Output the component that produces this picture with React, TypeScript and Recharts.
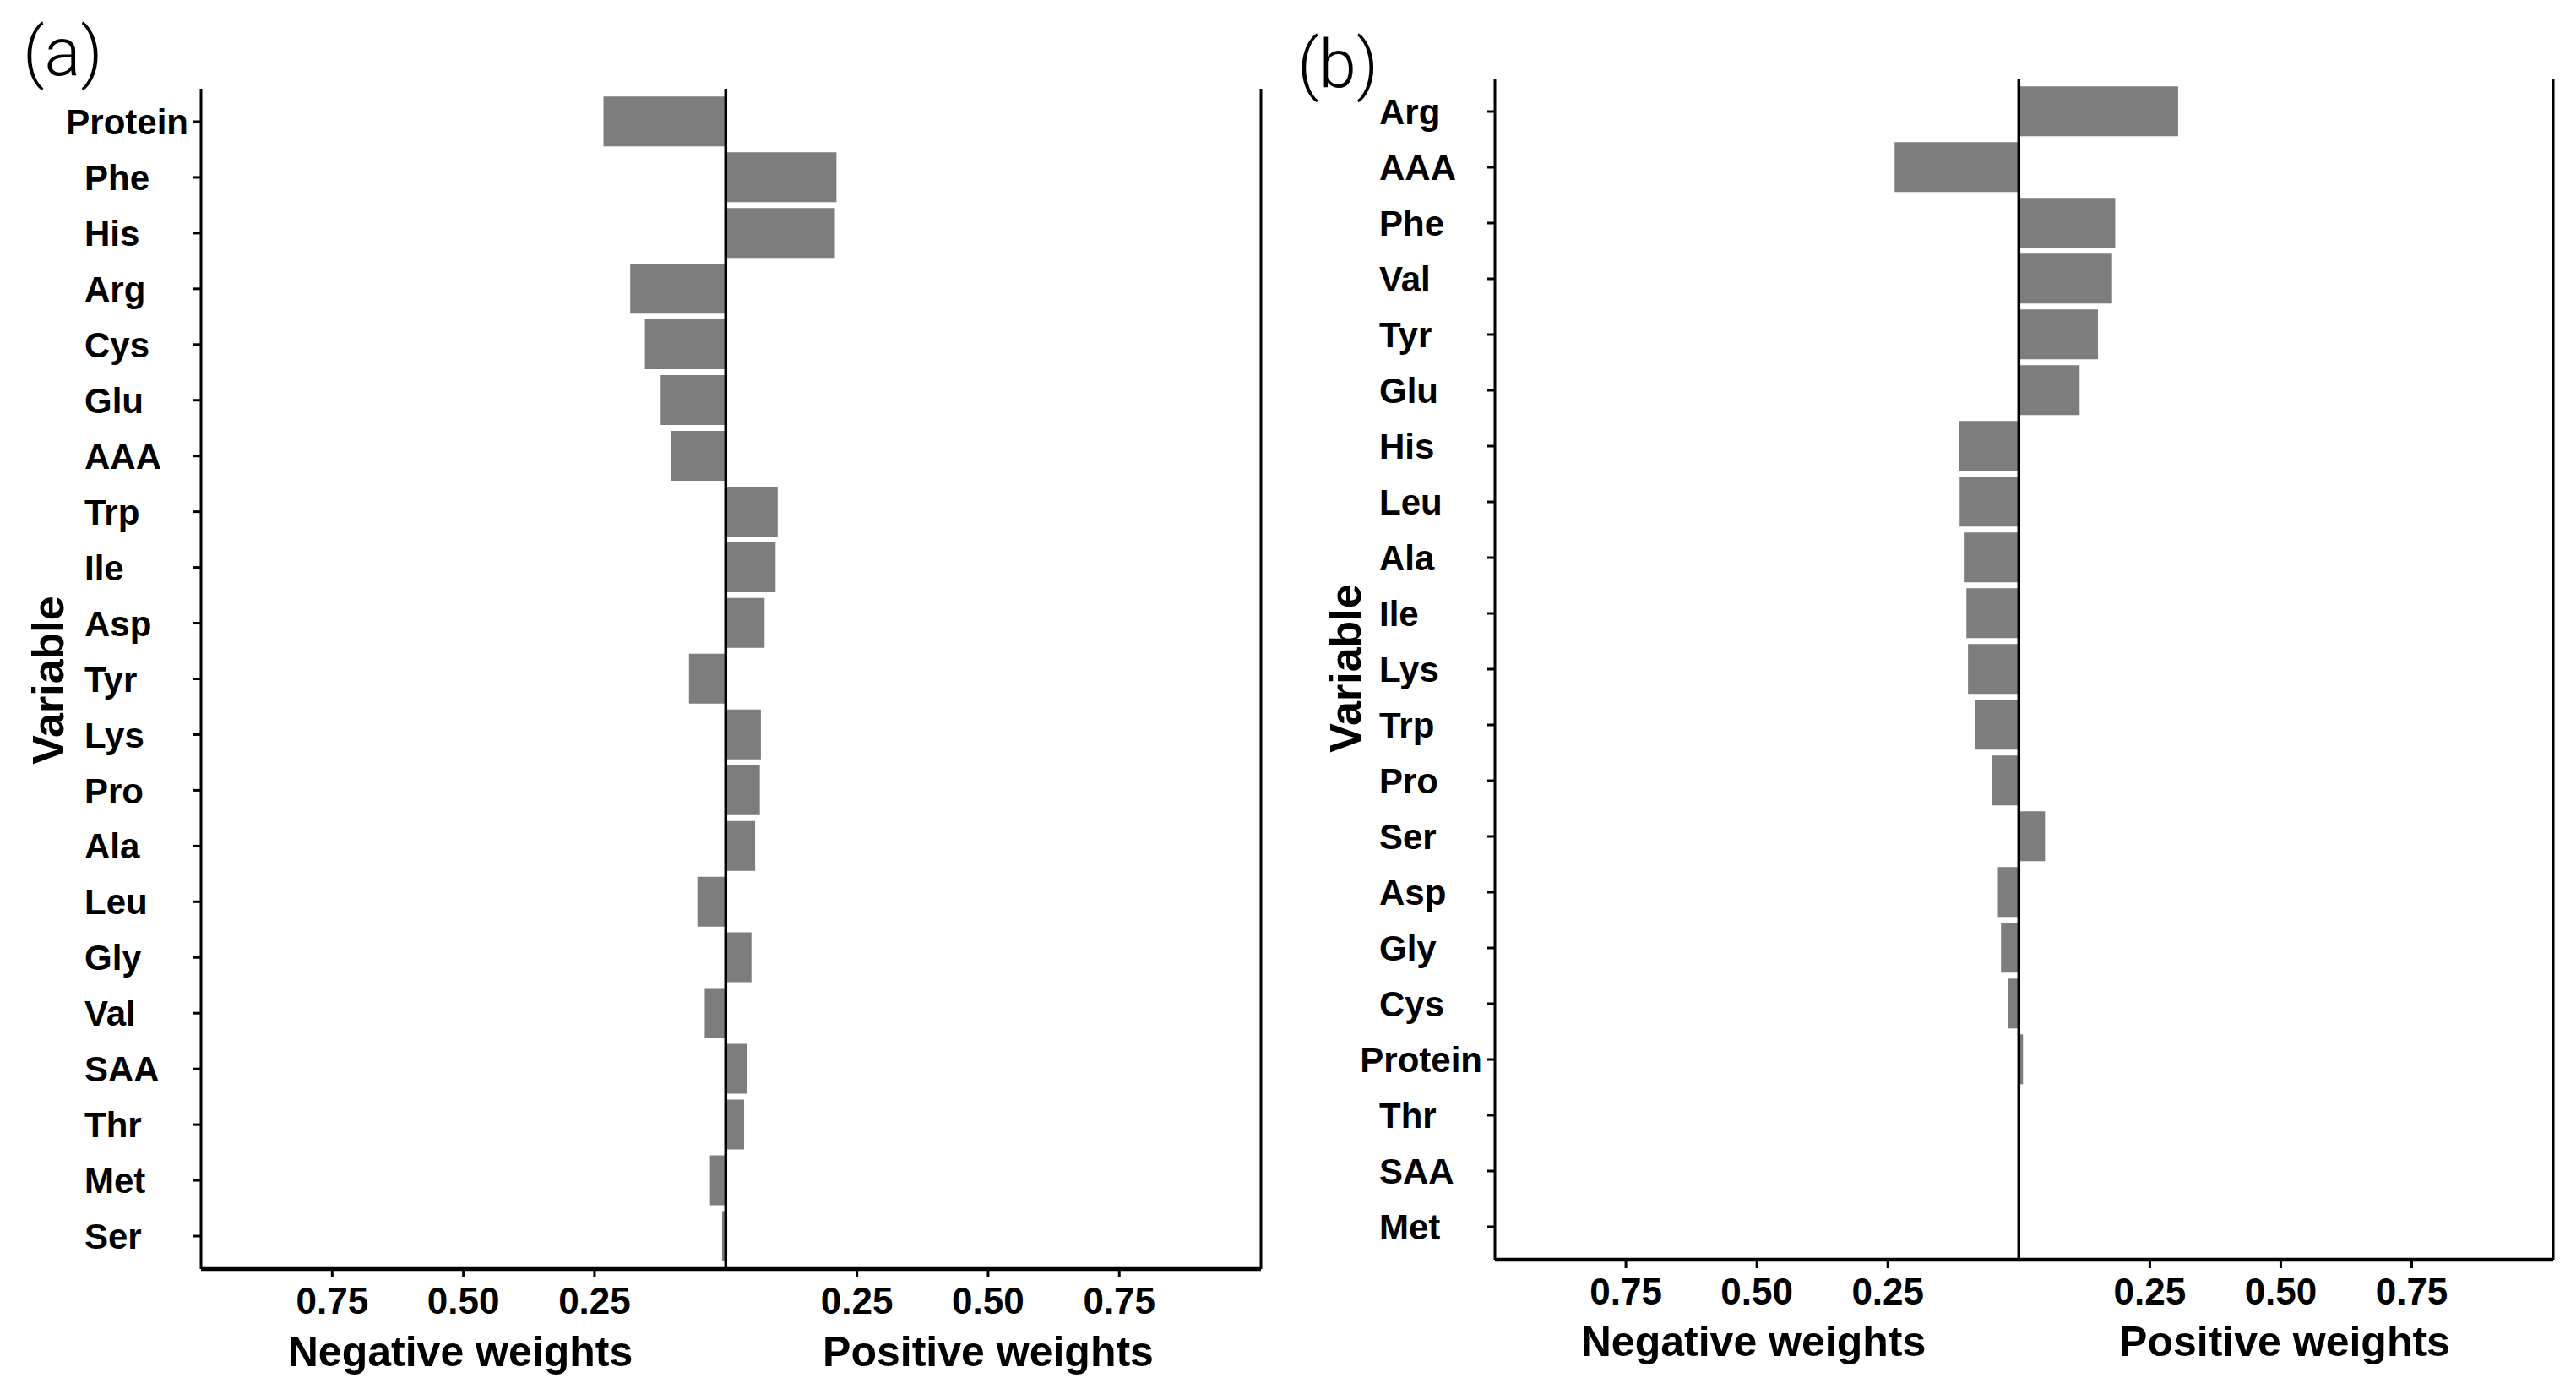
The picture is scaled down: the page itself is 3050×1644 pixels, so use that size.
import { Bar, BarChart, ReferenceLine, XAxis, YAxis } from "recharts";

// panel (a)
const variablesA = [
  "Protein", "Phe", "His", "Arg", "Cys", "Glu", "AAA", "Trp", "Ile", "Asp", "Tyr",
  "Lys", "Pro", "Ala", "Leu", "Gly", "Val", "SAA", "Thr", "Met", "Ser",
];
const weightsA = [
  -0.233, 0.211, 0.208, -0.182, -0.154, -0.124, -0.104, 0.099, 0.095, 0.074, -0.07,
  0.067, 0.065, 0.056, -0.054, 0.049, -0.04, 0.04, 0.035, -0.03, -0.007,
];

// panel (b)
const variablesB = [
  "Arg", "AAA", "Phe", "Val", "Tyr", "Glu", "His", "Leu", "Ala", "Ile", "Lys",
  "Trp", "Pro", "Ser", "Asp", "Gly", "Cys", "Protein", "Thr", "SAA", "Met",
];
const weightsB = [
  0.304, -0.237, 0.184, 0.178, 0.151, 0.116, -0.114, -0.113, -0.105, -0.1, -0.097,
  -0.084, -0.052, 0.05, -0.04, -0.034, -0.02, 0.008, 0.002, 0, 0,
];

const xTicks = [-0.75, -0.5, -0.25, 0.25, 0.5, 0.75];
const xMin = -1;
const xMax = 1.02;

const font = '"Liberation Sans", Arial, sans-serif';
const barFill = "#7d7d7d";

function VarTick(props: any) {
  const { x, y, payload, startX } = props;
  const label = String(payload.value);
  const long = label.length > 4;
  return (
    <text
      x={long ? x - 4 : startX}
      y={y}
      dy="0.36em"
      textAnchor={long ? "end" : "start"}
      fontFamily={font}
      fontWeight="bold"
      fontSize={42}
      fill="#000"
    >
      {label}
    </text>
  );
}

type PanelProps = {
  variables: string[];
  weights: number[];
  left: number;
  top: number;
  axisWidth: number;
  right: number;
  xAxisHeight: number;
  labelStart: number;
};

function WeightPanel(p: PanelProps) {
  const data = p.variables.map((name, i) => ({ name, weight: p.weights[i] }));
  return (
    <div style={{ position: "absolute", left: p.left, top: 0 }}>
      <BarChart
        layout="vertical"
        width={1525}
        height={1644}
        data={data}
        margin={{ top: p.top, right: p.right, bottom: 0, left: 0 }}
        barCategoryGap={3.3}
      >
        <XAxis
          type="number"
          domain={[xMin, xMax]}
          ticks={xTicks}
          tickFormatter={(v: number) => Math.abs(v).toFixed(2)}
          height={p.xAxisHeight}
          axisLine={{ stroke: "#000", strokeWidth: 4.5 }}
          tickLine={{ stroke: "#000", strokeWidth: 3 }}
          tickSize={10}
          tickMargin={12}
          tick={{ fill: "#000", fontSize: 44, fontWeight: "bold", fontFamily: font }}
          allowDataOverflow
        />
        <YAxis
          type="category"
          dataKey="name"
          width={p.axisWidth}
          padding={{ top: 6, bottom: 6 }}
          axisLine={{ stroke: "#000", strokeWidth: 3 }}
          tickLine={{ stroke: "#000", strokeWidth: 3 }}
          tickSize={9}
          interval={0}
          tick={(t: any) => <VarTick {...t} startX={p.labelStart} />}
        />
        <Bar dataKey="weight" fill={barFill} isAnimationActive={false} />
        <ReferenceLine x={0} stroke="#000" strokeWidth={3.5} />
        <ReferenceLine x={xMax} stroke="#000" strokeWidth={3} />
      </BarChart>
    </div>
  );
}

const titleStyle = {
  fontFamily: font,
  fontWeight: "bold" as const,
  fontSize: 50,
  fill: "#000",
};

export default function App() {
  return (
    <div
      style={{
        position: "absolute",
        left: 0,
        top: 0,
        width: 3050,
        height: 1644,
        background: "#fff",
        overflow: "hidden",
      }}
    >
      <WeightPanel
        variables={variablesA}
        weights={weightsA}
        left={0}
        top={105}
        axisWidth={238}
        right={32}
        xAxisHeight={142}
        labelStart={100}
      />
      <WeightPanel
        variables={variablesB}
        weights={weightsB}
        left={1525}
        top={93}
        axisWidth={245}
        right={27}
        xAxisHeight={153}
        labelStart={108}
      />
      <svg
        width={3050}
        height={1644}
        style={{ position: "absolute", left: 0, top: 0, pointerEvents: "none" }}
      >
        <text x={27} y={89} fontFamily='Roboto, "Liberation Sans", sans-serif' fontWeight={300} fontSize={80}>
          (a)
        </text>
        <text x={1536} y={103} fontFamily='Roboto, "Liberation Sans", sans-serif' fontWeight={300} fontSize={80}>
          (b)
        </text>
        <text
          x={57}
          y={805}
          textAnchor="middle"
          dominantBaseline="central"
          transform="rotate(-90 57 805)"
          {...titleStyle}
          fontSize={52}
        >
          Variable
        </text>
        <text
          x={1593}
          y={791}
          textAnchor="middle"
          dominantBaseline="central"
          transform="rotate(-90 1593 791)"
          {...titleStyle}
          fontSize={52}
        >
          Variable
        </text>
        <text x={545} y={1617} textAnchor="middle" {...titleStyle}>
          Negative weights
        </text>
        <text x={1170} y={1617} textAnchor="middle" {...titleStyle}>
          Positive weights
        </text>
        <text x={2076} y={1605} textAnchor="middle" {...titleStyle}>
          Negative weights
        </text>
        <text x={2705} y={1605} textAnchor="middle" {...titleStyle}>
          Positive weights
        </text>
      </svg>
    </div>
  );
}
